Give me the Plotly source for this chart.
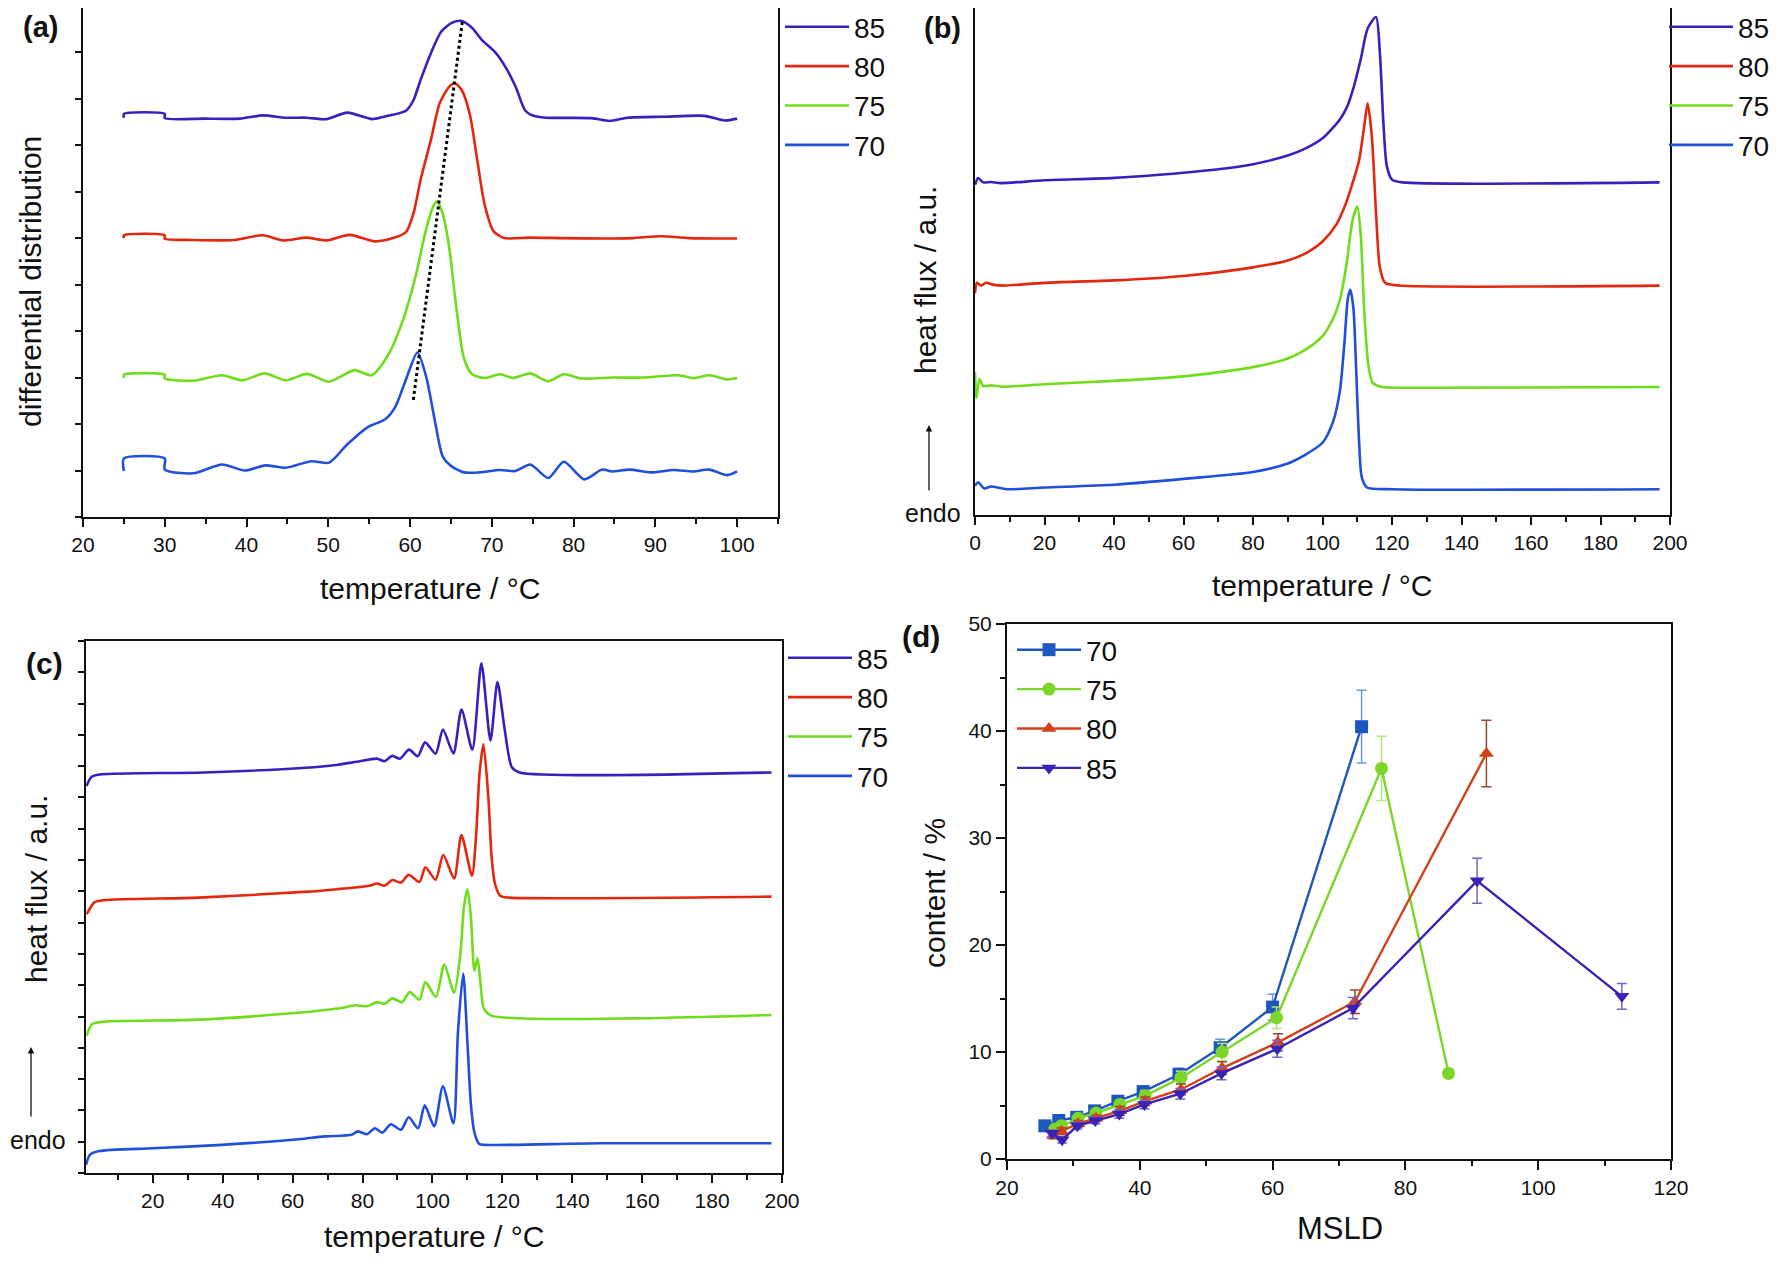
import plotly.graph_objects as go

# ---------------- colours ----------------
C85, C80, C75, C70 = "#3C1EBE", "#E3260E", "#6FDC1C", "#1F4FDB"
D70, D75, D80, D85 = "#1E57BE", "#7BD629", "#D2401A", "#3A22B4"
E70, E75, E80, E85 = "#6A9AD8", "#B5E57A", "#8E4B2E", "#7D62C6"

series = ["85", "80", "75", "70"]

# ---------------- (a) differential distribution ----------------
t85a = [25, 25, 30, 30, 34.8, 39.2, 42, 44.8, 47.3, 49.8, 52.3, 55.4, 57.3, 59.5, 60.4, 61.3, 62.6, 63.8, 65.1, 66.3,
        67.6, 68.8, 70.4, 71.6, 72.9, 74.1, 75.1, 76.6, 82.2, 84.4, 86.6, 91, 96, 98.5, 100]
v85a = [8.59, 8.67, 8.67, 8.58, 8.57, 8.57, 8.64, 8.59, 8.59, 8.56, 8.70, 8.56, 8.63, 8.74, 8.96, 9.41, 10.0, 10.44, 10.63, 10.67,
        10.52, 10.26, 10.0, 9.70, 9.26, 8.74, 8.63, 8.59, 8.58, 8.52, 8.59, 8.61, 8.63, 8.53, 8.57]
t80a = [25, 25, 30, 30, 33.5, 38.5, 42, 44.5, 47.3, 49.8, 52.6, 55.7, 57.9, 59.5, 60.4, 61.3, 62.6, 63.6, 64.8, 65.5,
        66.3, 67.3, 68.2, 69.1, 70.2, 71.5, 74.7, 78.5, 83.5, 87.2, 90.7, 94.1, 98.5, 100]
v80a = [6.0, 6.06, 6.06, 5.99, 5.96, 5.96, 6.06, 5.95, 6.01, 5.95, 6.07, 5.93, 6.0, 6.13, 6.52, 7.26, 8.15, 8.89, 9.26, 9.33,
        9.19, 8.67, 7.7, 6.74, 6.15, 6.0, 6.01, 6.0, 5.99, 6.0, 6.04, 6.0, 5.99, 5.99]
t75a = [25, 25, 30, 30, 33.5, 37, 39.5, 42.2, 44.8, 47.4, 50.1, 53.2, 55.3, 57.3, 59.1, 60.7, 61.8, 62.8, 63.3, 64.0,
        64.8, 65.7, 66.6, 67.6, 69.1, 71, 72.6, 74.7, 76.9, 78.8, 81, 84.7, 88.5, 92.8, 94.7, 96.6, 98.8, 100]
v75a = [2.99, 3.06, 3.06, 2.98, 2.93, 3.05, 2.94, 3.09, 2.94, 3.08, 2.91, 3.16, 3.05, 3.48, 4.22, 5.19, 6.07, 6.67, 6.79, 6.52,
        5.78, 4.44, 3.41, 3.07, 2.99, 3.07, 2.99, 3.09, 2.92, 3.07, 2.98, 3.0, 3.0, 3.05, 2.99, 3.05, 2.96, 2.99]
t70a = [25, 25, 30, 30, 33.5, 37, 39.8, 42.3, 44.8, 47.9, 50.1, 52.3, 54.8, 57, 58.2, 59.5, 60.9, 62.0, 63.0, 64.0,
        65.0, 66.6, 68.5, 71, 72.9, 74.7, 76.9, 78.8, 81.3, 83.5, 84.7, 86.9, 89.4, 92.2, 94.7, 96.6, 98.8, 100]
v70a = [0.99, 1.26, 1.26, 1.02, 0.94, 1.13, 1.0, 1.11, 1.06, 1.2, 1.17, 1.56, 1.93, 2.11, 2.37, 2.96, 3.54, 3.0, 2.1, 1.3,
        1.1, 0.96, 0.96, 1.01, 0.99, 1.13, 0.84, 1.19, 0.81, 1.02, 0.98, 1.02, 0.96, 1.01, 0.98, 1.02, 0.9, 0.98]
peak_t = [60.4, 66.4]
peak_v = [2.52, 10.67]

# ---------------- (b) DSC heating ----------------
t85b = [0, 0.9, 2.4, 4.6, 7.4, 20, 40, 60, 70, 80, 90, 95, 100, 105, 107, 109, 111, 113, 115.4, 116.5,
        117.5, 118.5, 120, 123, 197]
v85b = [9.6, 9.8, 9.67, 9.68, 9.65, 9.73, 9.80, 9.95, 10.05, 10.20, 10.45, 10.65, 10.95, 11.5, 11.85, 12.45, 13.25, 14.15, 14.48, 13.45,
        11.45, 10.15, 9.75, 9.67, 9.67]
t80b = [0, 0.55, 1.8, 3.1, 5.5, 8.3, 20, 40, 60, 80, 90, 95, 100, 104, 106.5, 108.5, 110.5, 112, 113, 114.2,
        115.5, 116.5, 118, 122, 197]
v80b = [6.45, 6.75, 6.67, 6.75, 6.69, 6.67, 6.75, 6.82, 6.95, 7.20, 7.40, 7.60, 7.95, 8.45, 9.0, 9.6, 10.3, 11.3, 11.97, 11.0,
        8.6, 7.2, 6.75, 6.67, 6.67]
t75b = [0, 0.4, 1.3, 2.4, 4.6, 8.3, 20, 40, 60, 80, 90, 95, 100, 103, 105, 107, 108.6, 110, 111, 112,
        113.2, 114.4, 116.8, 130, 197]
v75b = [4.15, 3.40, 3.95, 3.75, 3.77, 3.73, 3.80, 3.90, 4.03, 4.30, 4.55, 4.80, 5.20, 5.70, 6.25, 7.35, 8.55, 8.97, 8.15, 5.95,
        4.35, 3.85, 3.73, 3.70, 3.72]
t70b = [0, 0.9, 2.7, 4.6, 9.2, 20, 40, 60, 80, 90, 95, 100, 103, 105, 106.3, 107.3, 108, 108.9, 109.7, 110.5,
        111.3, 112.8, 120, 197]
v70b = [0.85, 0.95, 0.77, 0.83, 0.75, 0.80, 0.88, 1.05, 1.25, 1.5, 1.75, 2.1, 2.7, 3.6, 5.0, 6.3, 6.55, 6.0, 4.2, 2.2,
        1.1, 0.80, 0.75, 0.75]

# ---------------- (c) DSC after fractionation ----------------
t85c = [1.06, 2.5, 5.4, 34.6, 63.7, 72.5, 78.3, 84.1, 86.3, 88.5, 90.7, 93.3, 95.8, 97.9, 100.9, 103, 106, 108.3, 111.4, 114,
        116.6, 118.6, 120.6, 122.7, 124.9, 197]
v85c = [12.37, 12.66, 12.74, 12.8, 12.95, 13.04, 13.14, 13.24, 13.16, 13.33, 13.24, 13.53, 13.32, 13.76, 13.4, 14.17, 13.41, 14.81, 13.53, 16.29,
        13.82, 15.69, 14.23, 12.97, 12.8, 12.8]
t80c = [1.1, 3.3, 6.1, 33.1, 64.4, 72.8, 78.5, 82, 84.2, 86.3, 88.5, 91, 93.2, 96.3, 98, 100.9, 103.1, 106.2, 108.3, 111.3,
        112.5, 113.5, 114.6, 116, 117, 118, 119.5, 122, 197]
v80c = [8.27, 8.65, 8.72, 8.8, 8.99, 9.07, 9.13, 9.18, 9.25, 9.18, 9.36, 9.28, 9.53, 9.30, 9.77, 9.37, 10.16, 9.41, 10.8, 9.5,
        10.8, 12.8, 13.7, 12.0, 10.0, 9.2, 8.85, 8.8, 8.83]
t75c = [1.1, 2.6, 5.4, 33, 61.5, 68.6, 74.3, 77.8, 81.4, 84.2, 86.3, 88.5, 91.3, 93.5, 96.3, 98, 101, 103.4, 106.2, 108,
        109, 110, 111, 112, 112.9, 113.8, 114.7, 116.9, 197]
v75c = [4.39, 4.75, 4.83, 4.90, 5.12, 5.2, 5.28, 5.36, 5.33, 5.46, 5.41, 5.58, 5.46, 5.78, 5.54, 6.1, 5.63, 6.66, 5.76, 7.0,
        8.5, 9.07, 8.2, 6.47, 6.86, 6.0, 5.26, 5.03, 5.05]
t70c = [0.9, 2, 4.7, 20, 39.7, 60, 69.3, 76.9, 78.6, 81.3, 83.5, 85.7, 88.1, 91, 93.2, 95.9, 97.8, 100.5, 103, 106,
        107.3, 108.8, 110, 111, 112, 113.4, 114.7, 148, 197]
v70c = [0.26, 0.58, 0.7, 0.79, 0.90, 1.06, 1.17, 1.22, 1.33, 1.24, 1.43, 1.29, 1.56, 1.38, 1.78, 1.43, 2.16, 1.49, 2.77, 1.59,
        4.5, 6.37, 4.2, 2.2, 1.3, 0.93, 0.9, 0.95, 0.95]

# ---------------- (d) content vs MSLD ----------------
m70 = [25.7, 27.8, 30.5, 33.2, 36.7, 40.5, 45.9, 52.1, 60.0, 73.4]
c70 = [3.1, 3.6, 3.9, 4.5, 5.4, 6.3, 7.9, 10.4, 14.2, 40.4]
e70 = [0.3, 0.3, 0.3, 0.4, 0.4, 0.5, 0.6, 0.8, 1.2, 3.4]
m75 = [27.2, 28.2, 30.7, 33.4, 37.0, 40.8, 46.2, 52.4, 60.6, 76.4, 86.5]
c75 = [2.8, 3.1, 3.8, 4.3, 5.1, 5.9, 7.6, 10.0, 13.2, 36.5, 8.0]
e75 = [0.3, 0.3, 0.3, 0.3, 0.4, 0.5, 0.6, 0.8, 1.0, 3.0, 0.4]
m80 = [27.0, 28.2, 30.7, 33.4, 37.0, 40.8, 46.2, 52.4, 60.8, 72.4, 92.2]
c80 = [2.2, 2.6, 3.3, 3.8, 4.5, 5.4, 6.5, 8.5, 10.9, 14.7, 37.9]
e80 = [0.3, 0.3, 0.3, 0.3, 0.4, 0.4, 0.5, 0.6, 0.8, 1.1, 3.1]
m85 = [26.8, 28.3, 30.6, 33.3, 36.9, 40.7, 46.1, 52.3, 60.7, 72.1, 90.8, 112.6]
c85 = [2.4, 1.8, 3.1, 3.6, 4.2, 5.1, 6.1, 8.0, 10.3, 14.1, 26.0, 15.2]
e85 = [0.3, 0.3, 0.3, 0.3, 0.4, 0.4, 0.5, 0.6, 0.8, 1.0, 2.1, 1.2]

# page is 1783x1265; the browser body keeps its 8px margin, so the figure is 16px smaller
PAD = 8
W, H = 1783 - 2 * PAD, 1265 - 2 * PAD
FONT = "Liberation Sans, Arial, sans-serif"


def fx(x):
    return (x - PAD) / W


def fy(y):
    return 1 - (y - PAD) / H


fig = go.Figure()


def curve(x, y, name, color, ax, leg):
    fig.add_trace(go.Scatter(
        x=x, y=y, name=name, mode="lines",
        line=dict(color=color, width=2.6, shape="spline", smoothing=0.7),
        xaxis="x" + ax, yaxis="y" + ax, legend=leg))


colors = [C85, C80, C75, C70]
for nm, col, x, y in zip(series, colors, [t85a, t80a, t75a, t70a], [v85a, v80a, v75a, v70a]):
    curve(x, y, nm, col, "", "legend")
fig.add_trace(go.Scatter(x=peak_t, y=peak_v, mode="lines", showlegend=False,
                         line=dict(color="black", width=3, dash="dot"), xaxis="x", yaxis="y"))
for nm, col, x, y in zip(series, colors, [t85b, t80b, t75b, t70b], [v85b, v80b, v75b, v70b]):
    curve(x, y, nm, col, "2", "legend2")
for nm, col, x, y in zip(series, colors, [t85c, t80c, t75c, t70c], [v85c, v80c, v75c, v70c]):
    curve(x, y, nm, col, "3", "legend3")

dsets = [("70", m70, c70, e70, D70, E70, "square"),
         ("75", m75, c75, e75, D75, E75, "circle"),
         ("80", m80, c80, e80, D80, E80, "triangle-up"),
         ("85", m85, c85, e85, D85, E85, "triangle-down")]
for nm, x, y, e, col, ecol, sym in dsets:
    fig.add_trace(go.Scatter(
        x=x, y=y, name=nm, mode="lines+markers",
        line=dict(color=col, width=2.4),
        marker=dict(symbol=sym, size=13, color=col),
        error_y=dict(type="data", array=e, visible=True, color=ecol, thickness=1.5, width=5),
        xaxis="x4", yaxis="y4", legend="legend4"))

base = dict(showline=True, linecolor="#111", linewidth=2, mirror=True, ticks="outside",
            tickcolor="#111", tickwidth=1.5, showgrid=False, zeroline=False,
            tickfont=dict(family=FONT, size=21, color="#111"))

fig.update_layout(
    width=W, height=H, margin=dict(l=0, r=0, t=0, b=0, autoexpand=False), autosize=False,
    paper_bgcolor="white", plot_bgcolor="white",
    font=dict(family=FONT, color="#111"),
    xaxis=dict(base, domain=[fx(83), fx(778)], range=[20, 105], dtick=10, ticklen=8,
               minor=dict(dtick=5, ticklen=5, ticks="outside", tickcolor="#111"), anchor="y"),
    yaxis=dict(base, domain=[fy(517), 1], range=[0, 10.95], dtick=1, ticklen=6,
               showticklabels=False, anchor="x"),
    xaxis2=dict(base, domain=[fx(975), fx(1670)], range=[0, 200], dtick=20, ticklen=8,
                minor=dict(dtick=10, ticklen=5, ticks="outside", tickcolor="#111"), anchor="y2"),
    yaxis2=dict(base, domain=[fy(515), 1], range=[0, 14.74], ticks="",
                showticklabels=False, anchor="x2"),
    xaxis3=dict(base, domain=[fx(86), fx(782)], range=[0.9, 200], dtick=20, ticklen=8,
                minor=dict(dtick=10, ticklen=5, ticks="outside", tickcolor="#111"), anchor="y3"),
    yaxis3=dict(base, domain=[fy(1173), fy(641)], range=[0, 17], dtick=1, ticklen=6,
                showticklabels=False, anchor="x3"),
    xaxis4=dict(base, domain=[fx(1007), fx(1671)], range=[20, 120], dtick=20, ticklen=9,
                minor=dict(dtick=10, ticklen=5, ticks="outside", tickcolor="#111"), anchor="y4"),
    yaxis4=dict(base, domain=[fy(1159), fy(624)], range=[0, 50], dtick=10, ticklen=9,
                minor=dict(dtick=5, ticklen=5, ticks="outside", tickcolor="#111"), anchor="x4"),
)

leg = dict(font=dict(family=FONT, size=28, color="#111"), bgcolor="rgba(0,0,0,0)",
           yanchor="top", xanchor="left", tracegroupgap=0, itemwidth=64)
fig.update_layout(
    legend=dict(leg, x=fx(780), y=fy(2)),
    legend2=dict(leg, x=fx(1664), y=fy(2)),
    legend3=dict(leg, x=fx(783), y=fy(633)),
    legend4=dict(leg, x=fx(1012), y=fy(625)),
)

ann = []


def text(x, y, s, size=30, angle=0, bold=False):
    ann.append(dict(x=fx(x), y=fy(y), xref="paper", yref="paper", text="<b>%s</b>" % s if bold else s,
                    showarrow=False, textangle=angle, xanchor="center", yanchor="middle",
                    font=dict(family=FONT, size=size, color="#111")))


text(430, 588, "temperature / °C")
text(1322, 585, "temperature / °C")
text(434, 1236, "temperature / °C")
text(1340, 1228, "MSLD", size=31)
text(30, 282, "differential distribution", angle=-90)
text(926, 280, "heat flux / a.u.", angle=-90)
text(36, 889, "heat flux / a.u.", angle=-90)
text(934, 893, "content / %", angle=-90)
text(40, 27, "(a)", size=29, bold=True)
text(942, 28, "(b)", size=29, bold=True)
text(44, 663, "(c)", size=30, bold=True)
text(921, 636, "(d)", size=30, bold=True)
text(933, 513, "endo", size=25)
text(38, 1140, "endo", size=25)

for x0, ytip, ytail in [(929, 425, 492), (31, 1047, 1118)]:
    ann.append(dict(x=fx(x0), y=fy(ytip), xref="paper", yref="paper", text="", showarrow=True,
                    ax=0, ay=ytail - ytip, arrowhead=2, arrowsize=1, arrowwidth=1.3, arrowcolor="#111"))

fig.update_layout(annotations=ann)
fig.write_html("out.html", config={"displayModeBar": False})
